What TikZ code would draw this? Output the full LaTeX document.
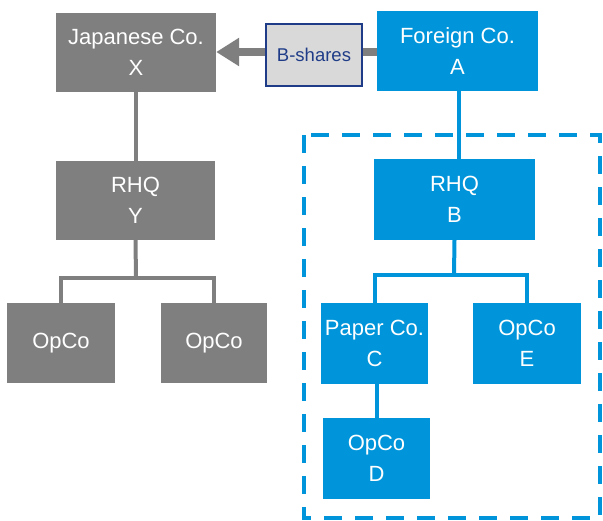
\documentclass[tikz,border=0pt]{standalone}
\usepackage{fontspec}
\setmainfont{Liberation Sans}
\usetikzlibrary{arrows.meta}
\definecolor{orggray}{HTML}{7F7F7F}
\definecolor{orgblue}{HTML}{0095DA}
\definecolor{sharefill}{HTML}{D9D9D9}
\definecolor{sharenavy}{HTML}{1F3C88}
\tikzset{
  entity/.style={draw=none, inner sep=0pt, align=center, text=white,
    font=\fontsize{22}{31}\selectfont},
  grayco/.style={entity, fill=orggray},
  blueco/.style={entity, fill=orgblue},
  graylink/.style={draw=orggray, line width=4pt},
  bluelink/.style={draw=orgblue, line width=4pt},
  sharearrow/.style={draw=orggray, line width=8.5pt,
    -{Triangle[length=23pt,width=27pt]}},
  sharebox/.style={draw=sharenavy, fill=sharefill, line width=1.5pt,
    text=sharenavy, font=\fontsize{18.5}{22}\selectfont, inner sep=0pt},
  groupframe/.style={draw=orgblue, line width=4pt, dash pattern=on 18pt off 13pt}
}
\begin{document}
\begin{tikzpicture}[x=1pt, y=-1pt]
\useasboundingbox (0,0) rectangle (603,520);

% dashed frame around the foreign group
\draw[groupframe] (304,135) rectangle (600,518);

% Japanese side
\node[grayco, minimum width=160pt, minimum height=79pt] (X) at (136,52.5) {Japanese Co.\\X};
\node[grayco, minimum width=159pt, minimum height=79pt] (Y) at (135.5,200.5) {RHQ\\Y};
\node[grayco, minimum width=108pt, minimum height=80pt] (L) at (61,343) {OpCo};
\node[grayco, minimum width=106pt, minimum height=80pt] (R) at (214,343) {OpCo};

% foreign side
\node[blueco, minimum width=161pt, minimum height=80pt] (A) at (457.5,51) {Foreign Co.\\A};
\node[blueco, minimum width=161pt, minimum height=81pt] (B) at (454.5,199.5) {RHQ\\B};
\node[blueco, minimum width=107pt, minimum height=81pt] (C) at (374.5,343.5) {Paper Co.\\C};
\node[blueco, minimum width=108pt, minimum height=81pt] (E) at (527,343.5) {OpCo\\E};
\node[blueco, minimum width=107pt, minimum height=81pt] (D) at (376.5,458.5) {OpCo\\D};

% gray tree
\coordinate (ybar) at (136,278);
\draw[graylink] (X.south) -- (Y.north -| X.south);
\draw[graylink] (Y.south) -- (ybar);
\draw[graylink] (L.north) |- (ybar) -| (R.north);

% blue tree
\coordinate (bbar) at (454,275);
\draw[bluelink] (A.south -| 459,0) -- (B.north -| 459,0);
\draw[bluelink] (B.south) -- (bbar);
\draw[bluelink] (C.north) |- (bbar) -| (E.north);
\draw[bluelink] (C.south -| 377,0) -- (D.north -| 377,0);

% share transfer arrow with its label box on top
\draw[sharearrow] (A.west |- 0,52) -- (X.east |- 0,52);
\node[sharebox, minimum width=96pt, minimum height=62pt] (S) at (314,55) {B-shares};
\end{tikzpicture}
\end{document}
